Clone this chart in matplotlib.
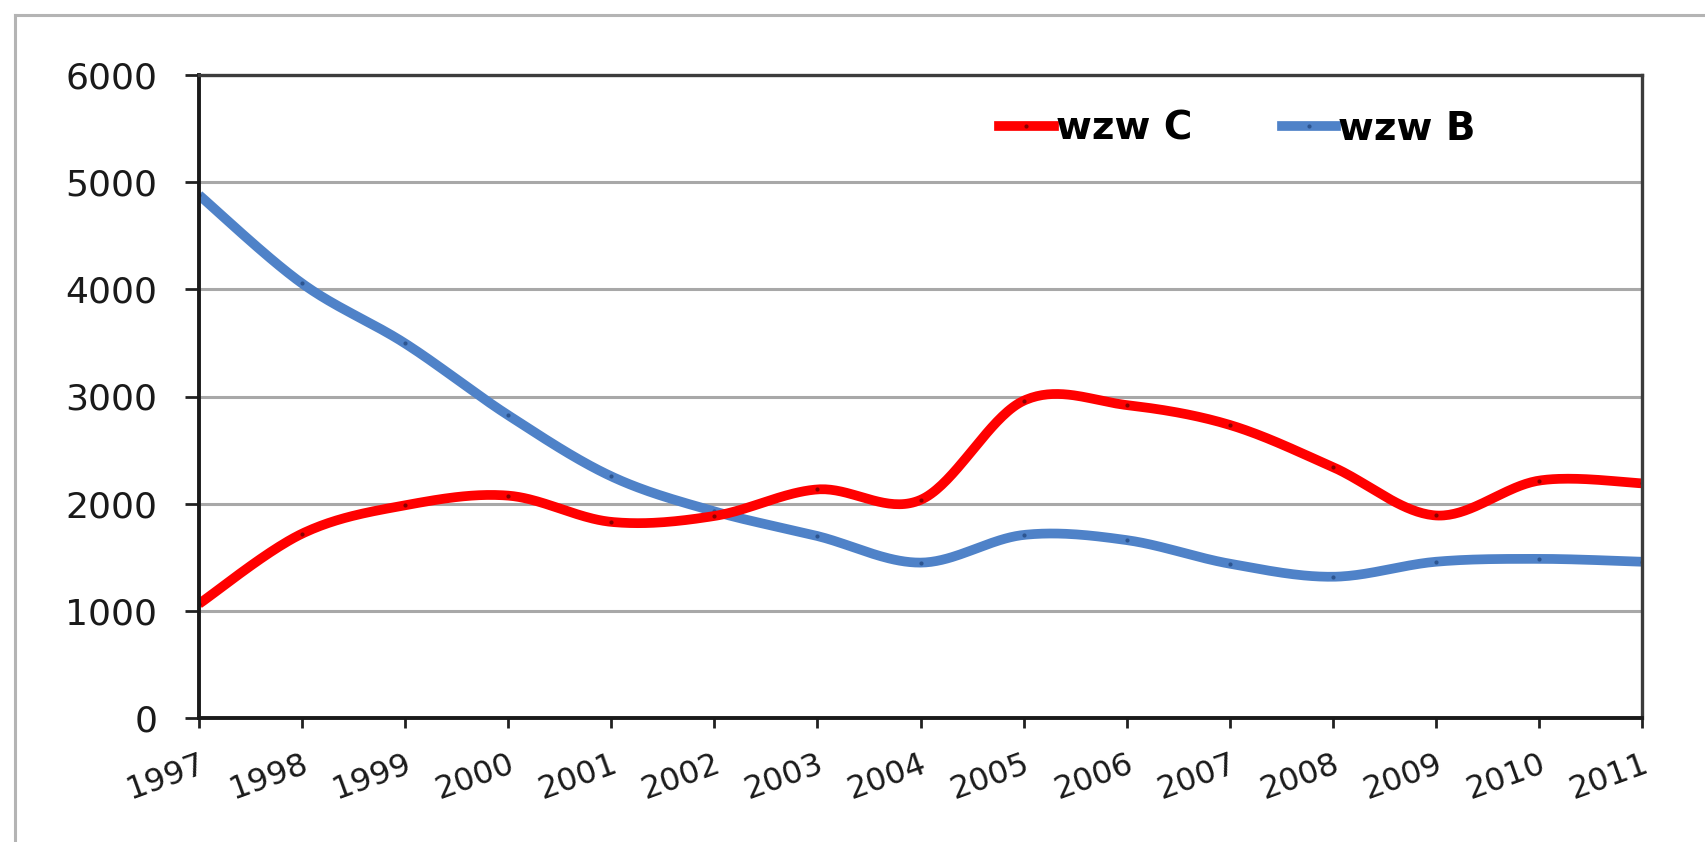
import numpy as np
import matplotlib
matplotlib.use("Agg")
import matplotlib.pyplot as plt
from matplotlib.lines import Line2D

years = [1997, 1998, 1999, 2000, 2001, 2002, 2003, 2004, 2005, 2006, 2007, 2008, 2009, 2010, 2011]
wzw_C = [1065, 1720, 1985, 2075, 1830, 1885, 2133, 2035, 2960, 2920, 2735, 2342, 1890, 2215, 2190]
wzw_B = [4880, 4055, 3495, 2825, 2255, 1928, 1698, 1450, 1708, 1660, 1440, 1318, 1458, 1485, 1458]
y_ticks = [0, 1000, 2000, 3000, 4000, 5000, 6000]
series_names = ["wzw C", "wzw B"]


def smooth(x, y, n=40):
    """Catmull-Rom (Excel-like) smoothing between the given data points."""
    x = np.asarray(x, float)
    y = np.asarray(y, float)
    P = np.column_stack([x, y])
    P = np.vstack([P[0], P, P[-1]])
    out = []
    t = np.linspace(0, 1, n)
    for i in range(1, len(P) - 2):
        p0, p1, p2, p3 = P[i - 1], P[i], P[i + 1], P[i + 2]
        c1 = p1 + (p2 - p0) / 6.0
        c2 = p2 - (p3 - p1) / 6.0
        tt = t[:, None]
        seg = ((1 - tt) ** 3) * p1 + 3 * ((1 - tt) ** 2) * tt * c1 + 3 * (1 - tt) * tt ** 2 * c2 + tt ** 3 * p2
        out.append(seg if i == 1 else seg[1:])
    out = np.vstack(out)
    return out[:, 0], out[:, 1]


W, H = 1706, 842
fig = plt.figure(figsize=(W / 100, H / 100), dpi=100)
fig.patch.set_facecolor("white")

# outer chart-area border (left and top visible)
fig.add_artist(Line2D([15 / W, 15 / W], [-0.05, 1 - 15 / H], transform=fig.transFigure,
                      color="#b4b4b4", lw=2.2))
fig.add_artist(Line2D([15 / W, 1.05], [1 - 15 / H, 1 - 15 / H], transform=fig.transFigure,
                      color="#b4b4b4", lw=2.2))

left, right, top, bottom = 199, 1642, 75, 718
ax = fig.add_axes([left / W, 1 - bottom / H, (right - left) / W, (bottom - top) / H])

red = "#ff0000"
blue = "#4f82c8"
lw_line = 7.0

xs, ys = smooth(years, wzw_B)
ax.plot(xs, ys, color=blue, lw=lw_line, solid_capstyle="butt", zorder=3)
ax.plot(years, wzw_B, ls="none", marker="o", ms=3, mfc="#2d5590", mec="none", zorder=4)
xs, ys = smooth(years, wzw_C)
ax.plot(xs, ys, color=red, lw=lw_line, solid_capstyle="butt", zorder=5)
ax.plot(years, wzw_C, ls="none", marker="o", ms=3, mfc="#8a0000", mec="none", zorder=6)

ax.set_xlim(years[0], years[-1])
ax.set_ylim(0, 6000)
ax.set_yticks(y_ticks)
ax.set_yticklabels([str(v) for v in y_ticks], fontsize=26, color="#1a1a1a", family="DejaVu Sans")
ax.set_xticks(years)
ax.set_xticklabels([str(v) for v in years], fontsize=23, color="#1a1a1a", family="DejaVu Sans",
                   rotation=20, ha="right", va="top", rotation_mode="anchor")

ax.tick_params(axis="y", direction="out", length=10, width=2, color="#222222", pad=20)
ax.tick_params(axis="x", direction="out", length=7, width=2, color="#222222", pad=15)

ax.grid(axis="y", color="#a8a8a8", lw=2.2, zorder=1)
ax.set_axisbelow(True)
for s in ["left", "bottom"]:
    ax.spines[s].set_color("#1a1a1a")
    ax.spines[s].set_linewidth(2.8)
for s in ["top", "right"]:
    ax.spines[s].set_color("#3c3c3c")
    ax.spines[s].set_linewidth(2.4)
for sp in ax.spines.values():
    sp.set_zorder(7)

handles = [
    Line2D([0], [0], color=red, lw=lw_line, marker="o", ms=3, mfc="#8a0000", mec="none"),
    Line2D([0], [0], color=blue, lw=lw_line, marker="o", ms=3, mfc="#2d5590", mec="none"),
]
leg = fig.legend(handles, series_names, ncol=2, frameon=False,
                 loc="center left", bbox_to_anchor=(999 / W, 1 - 129 / H),
                 borderpad=0, borderaxespad=0, handlelength=1.41, handletextpad=0.05,
                 columnspacing=2.3, prop={"family": "DejaVu Sans", "weight": "bold", "size": 28})

fig.savefig("out.png", dpi=100, facecolor="white")
